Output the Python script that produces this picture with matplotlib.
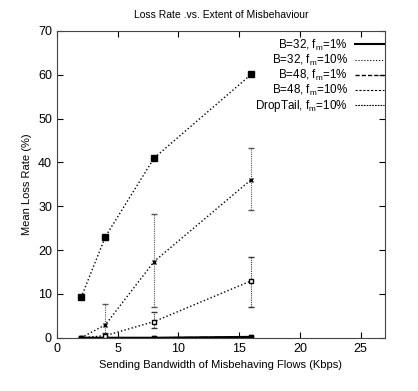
import matplotlib
matplotlib.use("Agg")
import matplotlib.pyplot as plt
from matplotlib.lines import Line2D

plt.rcParams["font.family"] = ["Liberation Sans", "DejaVu Sans"]
plt.rcParams["mathtext.fontset"] = "custom"
plt.rcParams["mathtext.rm"] = "Liberation Sans"
plt.rcParams["mathtext.it"] = "Liberation Sans"

bw = [2, 4, 8, 16]

b32_1 = [0, 0, 0, 0.2]
b48_1 = [0, 0, 0, 0.2]

b32_10 = [0, 0.5, 3.7, 13.0]
b32_10_lo = [0, 0, 2.3, 7.1]
b32_10_hi = [0, 1.2, 6.0, 18.5]

b48_10 = [0, 3.0, 17.4, 36.1]
b48_10_lo = [0, 0.3, 7.0, 29.2]
b48_10_hi = [0, 7.7, 28.3, 43.4]

droptail = [9.2, 23.1, 41.0, 60.1]

labels = ["B=32, f$_m$=1%", "B=32, f$_m$=10%", "B=48, f$_m$=1%",
          "B=48, f$_m$=10%", "DropTail, f$_m$=10%"]

fig = plt.figure(figsize=(4.18, 3.91), dpi=100)
ax = fig.add_axes([0.136, 0.136, 0.785, 0.785])

ax.plot(bw, b32_1, "-", color="black", lw=1.6, marker="s", ms=3)

err = [[v - l for v, l in zip(b32_10, b32_10_lo)], [h - v for v, h in zip(b32_10, b32_10_hi)]]
c1 = ax.errorbar(bw, b32_10, yerr=err, fmt=":", color="black", lw=1, marker="s",
                 mfc="white", mec="black", ms=3.5, capsize=2, elinewidth=0.8,
                 ecolor="#333333")

ax.plot(bw, b48_1, "-.", color="black", lw=1, marker="s", ms=3)

err = [[v - l for v, l in zip(b48_10, b48_10_lo)], [h - v for v, h in zip(b48_10, b48_10_hi)]]
c2 = ax.errorbar(bw, b48_10, yerr=err, fmt=":", color="black", lw=1, marker="x",
                 ms=3.5, capsize=2, elinewidth=0.8, ecolor="#555555")

for c in (c1, c2):
    for col in c[2]:
        col.set_linestyle((0, (1, 1)))

ax.plot(bw, droptail, ":", color="black", lw=1, marker="s", ms=4)

handles = [Line2D([], [], color="black", lw=1.5, ls="-"),
           Line2D([], [], color="black", lw=0.8, ls=":"),
           Line2D([], [], color="black", lw=1, ls=(0, (3, 1.5))),
           Line2D([], [], color="black", lw=0.8, ls=(0, (2, 1.5))),
           Line2D([], [], color="black", lw=0.8, ls=(0, (1.5, 1)))]

ax.set_xlim(0, 27)
ax.set_ylim(0, 70)
ax.set_xticks([0, 5, 10, 15, 20, 25])
ax.set_yticks(range(0, 71, 10))
ax.tick_params(direction="in", top=True, right=True, labelsize=9, length=4)
for s in ax.spines.values():
    s.set_color("#444444")

ax.set_title("Loss Rate .vs. Extent of Misbehaviour", fontsize=7.5, pad=9)
ax.set_xlabel("Sending Bandwidth of Misbehaving Flows (Kbps)", fontsize=8)
ax.set_ylabel("Mean Loss Rate (%)", fontsize=8)

leg = ax.legend(handles, labels, loc="upper right", bbox_to_anchor=(1.0, 0.982),
                frameon=False, fontsize=8.4, markerfirst=False, handlelength=2.5,
                labelspacing=0.0, borderaxespad=0, borderpad=0.1,
                handletextpad=0.6)

fig.savefig("out.png", dpi=100)
